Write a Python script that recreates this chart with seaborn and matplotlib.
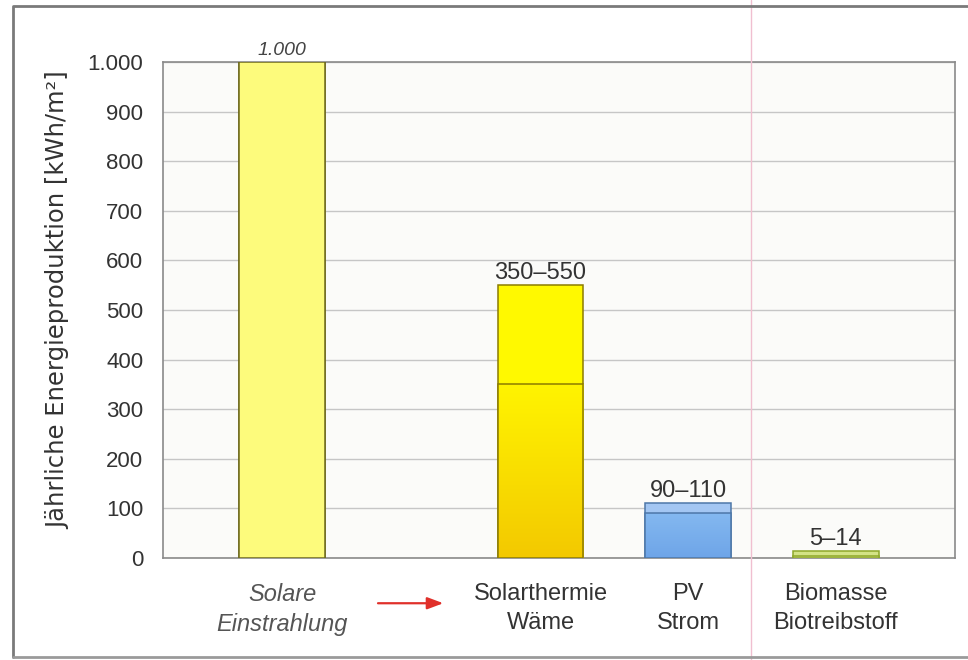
import numpy as np
import matplotlib
matplotlib.use("Agg")
from matplotlib import pyplot as plt
from matplotlib import transforms
from matplotlib.lines import Line2D
import pandas as pd
import seaborn as sns

# data
categories = ["Solare\nEinstrahlung", "Solarthermie\nWäme", "PV\nStrom", "Biomasse\nBiotreibstoff"]
low = [1000, 350, 90, 5]
high = [1000, 550, 110, 14]
value_labels = ["1.000", "350–550", "90–110", "5–14"]
y_ticks = [0, 100, 200, 300, 400, 500, 600, 700, 800, 900, 1000]
y_tick_labels = ["0", "100", "200", "300", "400", "500", "600", "700", "800", "900", "1.000"]
y_label = "Jährliche Energieproduktion [kWh/m²]"

# layout (x slots, the gap after the first bar holds the arrow)
x_pos = [0, 1.75, 2.75, 3.75]
upper_colors = ["#fdfb7c", "#fff900", "#a3c6f2", "#d3e386"]
lower_colors = ["#fdfb7c", "#ffee00", "#7db2ee", "#d3e386"]
edge_colors = ["#6e6a1e", "#8c7c00", "#4d77a8", "#8ea82a"]

sns.set_theme(style="white")
plt.rcParams["font.family"] = ["Liberation Sans", "DejaVu Sans"]
txt = "#333333"

df = pd.DataFrame({"name": categories, "pos": x_pos, "low": low, "high": high})

fig = plt.figure(figsize=(9.68, 6.6), dpi=100)
ax = fig.add_axes([0.168, 0.1545, 0.819, 0.7515])
ax.set_facecolor("#fbfbf9")

sns.barplot(data=df, x="pos", y="high", hue="name", hue_order=categories,
            palette=dict(zip(categories, upper_colors)), native_scale=True,
            dodge=False, width=0.58, legend=False, saturation=1, ax=ax, zorder=3)
sns.barplot(data=df, x="pos", y="low", hue="name", hue_order=categories,
            palette=dict(zip(categories, lower_colors)), native_scale=True,
            dodge=False, width=0.58, legend=False, saturation=1, ax=ax, zorder=4)

upper = ax.containers[:4]
lower = ax.containers[4:8]
for cont_u, cont_l, ec in zip(upper, lower, edge_colors):
    for p in list(cont_u) + list(cont_l):
        p.set_edgecolor(ec)
        p.set_linewidth(1.1)

# gradient fill in the lower part of the solar thermal and PV bars
for cont, c_top, c_bot in [(lower[1], "#fff400", "#f3c900"), (lower[2], "#84b8f0", "#6ea5e8")]:
    p = cont[0]
    x0, y0 = p.get_x(), p.get_y()
    w, h = p.get_width(), p.get_height()
    top = np.array(matplotlib.colors.to_rgb(c_top))
    bot = np.array(matplotlib.colors.to_rgb(c_bot))
    t = np.linspace(0, 1, 64)[:, None]
    grad = (top * (1 - t) + bot * t)[:, None, :]
    im = ax.imshow(grad, extent=[x0, x0 + w, y0, y0 + h], origin="upper",
                   aspect="auto", zorder=3.5, interpolation="bilinear")
    im.set_clip_path(p)
    p.set_facecolor("none")

for i, (cont, lab) in enumerate(zip(upper, value_labels)):
    if i == 0:
        ax.bar_label(cont, labels=[lab], padding=2, fontsize=14, color="#444444",
                     style="italic")
    else:
        ax.bar_label(cont, labels=[lab], padding=1, fontsize=17, color=txt)

ax.set_xlim(-0.81, 4.56)
ax.set_ylim(0, 1000)
ax.set_yticks(y_ticks)
ax.set_yticklabels(y_tick_labels)
ax.set_xticks(x_pos)
ax.set_xticklabels(categories)
ax.tick_params(axis="both", length=0, labelcolor=txt)
ax.tick_params(axis="y", pad=14, labelsize=16)
ax.tick_params(axis="x", pad=18, labelsize=17)
xl = ax.get_xticklabels()
xl[0].set_style("italic")
xl[0].set_color("#555555")
for t in xl:
    t.set_linespacing(1.4)
ax.set_xlabel("")
ax.set_ylabel(y_label, fontsize=17.5, color=txt, family=["DejaVu Sans"])
ax.yaxis.set_label_coords(-0.117, 0.52)
ax.yaxis.grid(True, color="#c6c6c6", linewidth=1, zorder=0)
ax.xaxis.grid(False)
ax.set_axisbelow(True)
for s in ax.spines.values():
    s.set_visible(True)
    s.set_color("#8a8a8a")
    s.set_linewidth(1.2)

# red arrow between irradiation and the technologies
tr = transforms.blended_transform_factory(ax.transData, fig.transFigure)
ax.annotate("", xy=(1.11, 0.086), xytext=(0.63, 0.086), xycoords=tr, textcoords=tr,
            arrowprops=dict(arrowstyle="-|>,head_length=0.8,head_width=0.3",
                            color="#e0302a", lw=1.6), annotation_clip=False)

# page frame and the pink margin line
fig.add_artist(Line2D([0.776, 0.776], [0, 1], color="#f0bfd0", lw=1))
fig.add_artist(Line2D([0.0134, 0.0134, 1.0], [0.004, 0.991, 0.991], color="#7a7a7a", lw=2))
fig.add_artist(Line2D([0.0134, 1.0], [0.004, 0.004], color="#9a9a9a", lw=2))

fig.savefig("out.png", dpi=100)
